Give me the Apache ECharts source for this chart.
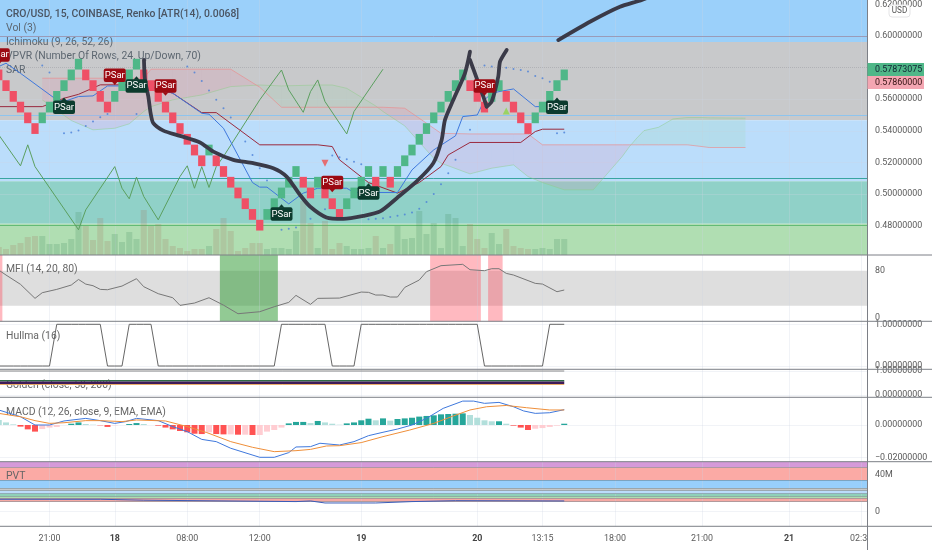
<!DOCTYPE html>
<html><head><meta charset="utf-8">
<style>html,body{margin:0;padding:0;background:#fff}#c{width:932px;height:550px}</style>
<script src="https://cdn.jsdelivr.net/npm/echarts@6/dist/echarts.min.js"></script>
</head><body><div id="c"></div>
<script>
// ---------- data ----------
const brickSize = 0.0068;
const brickMid = [.5754,.5686,.5618,.5550,.5482,.5414,.5482,.5550,.5618,.5686,.5754,.5822,.5754,.5686,.5618,.5550,.5618,.5686,.5754,.5822,.5754,.5686,.5618,.5550,.5482,.5414,.5346,.5278,.5210,.5278,.5210,.5142,.5074,.5006,.4938,.4870,.4802,.4870,.4938,.5006,.5074,.5142,.5074,.5006,.5074,.5006,.4938,.4870,.4938,.5006,.5074,.5142,.5074,.5142,.5074,.5142,.5210,.5278,.5346,.5414,.5482,.5550,.5618,.5686,.5754,.5686,.5618,.5550,.5618,.5686,.5618,.5550,.5482,.5414,.5482,.5550,.5618,.5686,.5754];
const brickDir = [-1,-1,-1,-1,-1,-1,1,1,1,1,1,1,-1,-1,-1,-1,1,1,1,1,-1,-1,-1,-1,-1,-1,-1,-1,-1,1,-1,-1,-1,-1,-1,-1,-1,1,1,1,1,1,-1,-1,1,-1,-1,-1,1,1,1,1,-1,1,-1,1,1,1,1,1,1,1,1,1,1,-1,-1,-1,1,1,-1,-1,-1,-1,1,1,1,1,1];
const volume = [8,6,10,12,18,19,19,11,11,12,16,43,29,15,37,14,21,13,23,16,45,29,31,16,9,7,4,6,6,9,26,37,24,4,7,12,12,6,7,7,6,24,54,32,7,34,6,12,9,6,6,7,19,7,11,29,16,17,44,21,32,7,41,37,9,31,16,7,22,11,26,9,7,6,6,7,6,16,16];
const volumeMA = [[0,3],[3,9],[5,18],[6,20],[8,16],[10,16],[11,27],[12,30],[14,28],[16,21],[18,12],[19,16],[20,27],[22,36],[23,27],[24,12],[26,7],[28,5],[30,16],[31,27],[33,17],[34,9],[36,8],[40,7],[41,17],[42,29],[43,32],[45,21],[48,14],[49,8],[51,7],[52,11],[54,16],[57,17],[59,32],[61,24],[62,30],[64,30],[66,21],[69,13],[70,20],[73,7],[76,7],[78,15]];
const baseLine = [[0,.5553],[6,.5553],[9,.5606],[11,.5631],[14,.5691],[20,.5691],[24,.5638],[28,.5515],[30,.5515],[36,.5311],[44,.5311],[46,.5300],[47,.5216],[51,.5072],[55,.5005],[58,.5072],[61,.5173],[62,.5247],[65,.5326],[72,.5326],[74,.5395],[75,.5410],[78,.5410]];
const conversionLine = [[0,.5807],[1,.5828],[3,.5764],[8,.5596],[9,.5585],[11,.5617],[13,.5621],[15,.5684],[21,.5684],[24,.5638],[28,.5511],[29,.5505],[31,.5416],[35,.5072],[36,.5043],[37,.5043],[40,.4937],[42,.5005],[44,.5036],[48,.5036],[49,.5009],[55,.5009],[57,.5152],[60,.5279],[63,.5368],[64,.5490],[66,.5500],[67,.5596],[68,.5638],[69,.5648],[71,.5665],[74,.5553],[76,.5553],[78,.5585]];
const laggingLine = [[0,.5374],[3,.5178],[4,.5311],[5,.5173],[11,.4773],[12,.4899],[16,.5173],[17,.5036],[18,.4969],[19,.5106],[20,.4984],[22,.4836],[25,.5110],[26,.5178],[27,.5036],[28,.5173],[29,.5041],[30,.5173],[31,.5237],[36,.5596],[39,.5785],[40,.5659],[42,.5517],[43,.5648],[44,.5722],[45,.5585],[48,.5380],[49,.5522],[53,.5790]];
const cloudN = [6,10,13,16,18,20,21,24,28,32,36,39,44,46,48,52,53,56,60,61,65,68,71,73,75,78,82,86,87,88,89,91,93,95,97,98,103];
const spanB = [.5733,.5733,.5733,.5733,.5733,.5733,.5790,.5790,.5790,.5790,.5676,.5549,.5549,.5549,.5549,.5549,.5549,.5543,.5416,.5384,.5380,.5380,.5380,.5380,.5311,.5311,.5311,.5311,.5311,.5311,.5311,.5311,.5311,.5311,.5300,.5294,.5294];
const spanA = [.5596,.5465,.5406,.5416,.5444,.5522,.5553,.5596,.5627,.5680,.5690,.5684,.5690,.5690,.5669,.5557,.5522,.5431,.5226,.5195,.5127,.5163,.5184,.5110,.5072,.5026,.5026,.5237,.5300,.5353,.5401,.5422,.5475,.5484,.5484,.5482,.5480];
const sarPoints = [[6,.5813],[7,.5769],[9,.5384],[10,.5389],[11,.5401],[12,.5431],[13,.5458],[14,.5486],[15,.5507],[19,.5507],[26,.5807],[27,.5769],[28,.5716],[29,.5655],[30,.5596],[31,.5543],[32,.5484],[34,.5332],[35,.5247],[36,.5163],[37,.5085],[39,.4773],[40,.4779],[41,.4787],[43,.4842],[45,.4903],[46,.5243],[47,.5233],[48,.5220],[49,.5203],[50,.5188],[51,.4840],[52,.4842],[53,.4846],[54,.4853],[55,.4861],[56,.4870],[57,.4882],[58,.4906],[59,.4948],[60,.5000],[61,.5062],[62,.5131],[63,.5216],[65,.5406],[67,.5813],[68,.5807],[69,.5796],[70,.5800],[71,.5792],[72,.5785],[73,.5775],[74,.5747],[75,.5733],[76,.5711],[77,.5384],[78,.5389]];
const drawingA = [[20.03,.5849],[20.17,.5722],[20.63,.5617],[20.95,.5511],[21.32,.5448],[22.7,.5401],[25,.5368],[27.76,.5326],[29.6,.5268],[32.35,.5216],[35.1,.5195],[37.87,.5163],[39.7,.5110],[41.55,.4994],[42.93,.4920],[45.2,.4851],[47.53,.4842],[50.29,.4861],[52.6,.4889],[54.9,.4973],[57.64,.5079],[59.94,.5195],[61.09,.5342],[61.55,.5469],[62.7,.5596],[64.3,.5764],[65,.5901]];
const drawingC = [[65,.5849],[65.92,.5733],[66.84,.5617],[67.3,.5553]];
const drawingD = [[67.3,.5553],[67.99,.5585],[68.9,.5743],[69.14,.5838],[70.06,.5912]];
const drawingB = [[77.18,.5975],[81.55,.6091],[85.69,.6186],[88.7,.6229],[92,.6290]];
const psarSell = [[0,.5880],[16,.5752],[23,.5684],[46,.5072],[67,.5684]];
const psarBuy = [[9,.5549],[19,.5684],[39,.4872],[51,.5005],[77,.5549]];
const triDown = [[45,.5195]];
const triUp = [[70,.5526]];
const mfi = [[0,81],[1,72.6],[3,56.6],[5,32.6],[6,42.3],[8,48],[10,55.4],[11,65],[12,57],[13,54.3],[14,48],[15,47.4],[17,53.7],[19,66.3],[20,52.6],[22,40.6],[24,33.7],[25,20.6],[27,24.6],[29,33.7],[31,21],[33,6.3],[36,9.7],[38,18.3],[40,25.7],[41,37.7],[43,22.3],[44,32.6],[47,33.1],[50,43.4],[51,42.9],[52,38.3],[53,38.3],[54,34.9],[55,34.9],[56,51.4],[58,64],[59,78.3],[61,88.6],[64,90.9],[65,81.7],[67,80],[68,83.4],[69,83.4],[70,75.4],[71,72.6],[74,58.3],[75,57.1],[77,44],[78,46.9]];
const mfiRed = [[0,.5],[59.5,66.5],[67.5,69.5]];
const mfiGreen = [[30.5,38.5]];
const hull = [0,0,0,0,0,0,0,0,1,1,1,1,1,1,1,0,0,0,1,1,1,1,0,0,0,0,0,0,0,0,0,0,0,0,0,0,0,0,0,1,1,1,1,1,1,1,0,0,0,0,1,1,1,1,1,1,1,1,1,1,1,1,1,1,1,1,1,0,0,0,0,0,0,0,0,0,1,1,1];
const goldenFlat = 1, goldenFast = .596, goldenSlow = .51, goldenClose = .44;
const macdLine = [[0,.0093],[3,.0051],[5,0],[7,0],[9,.0025],[12,.0041],[14,.0027],[16,.0010],[17.5,.0021],[19,.0041],[22,.0027],[24,-.0010],[26,-.0041],[28,-.0089],[30,-.0103],[32,-.0144],[36,-.0200],[38,-.0200],[40,-.0171],[41,-.0136],[43,-.0134],[44.3,-.0113],[47,-.0124],[49,-.0103],[51,-.0066],[53,-.0045],[55,-.0025],[57,0],[59,.0041],[61.3,.0103],[64,.0148],[65.5,.0148],[67,.0134],[69,.0140],[71,.0113],[72.4,.0087],[74,.0072],[76,.0076],[78,.0095]];
const macdSignal = [[0,.0072],[3,.0051],[5,.0027],[7,.0010],[9,.0014],[12,.0027],[14,.0027],[17,.0021],[19,.0031],[23,.0025],[26,-.0010],[28.7,-.0047],[32,-.0103],[35,-.0138],[38,-.0165],[41,-.0159],[43,-.0151],[45.2,-.0130],[47,-.0128],[50,-.0109],[53,-.0072],[56.7,-.0031],[60,.0010],[62.7,.0056],[65,.0093],[67.3,.0113],[70,.0121],[72.8,.0107],[76,.0093],[78,.0093]];
const macdHist = [.0031,.0016,.0004,-.0010,-.0027,-.0041,-.0025,-.0016,-.0012,0,.0008,.0016,.0006,.0002,-.0002,-.0012,-.0002,0,.0006,.0012,.0006,0,-.0004,-.0016,-.0027,-.0037,-.0045,-.0054,-.0056,-.0045,-.0056,-.0058,-.0058,-.0060,-.0060,-.0062,-.0062,-.0041,-.0031,-.0016,.0010,.0019,.0019,.0012,.0025,.0016,.0008,.0002,.0010,.0016,.0029,.0039,.0029,.0041,.0027,.0037,.0041,.0045,.0052,.0056,.0060,.0066,.0068,.0070,.0072,.0062,.0045,.0029,.0023,.0023,.0008,-.0004,-.0016,-.0031,-.0023,-.0019,-.0012,-.0004,.0008];
const pvtLine = [[0,13],[14,13],[20,12],[41,10.5],[43,11.2],[45,9],[52,9],[57,10.5],[63,11.5],[78,11.2]];
const priceBandEdges = [.62285,.5963,.5466,.5080,.4811,.4613];
const priceBandColors = ['#9bd0fa','#c8c9cb','#bbddfb','#90d1c8','#b0deb2'];
const priceEdgeColors = ['#9a9bb8','#8ec4ee','#38a5a0','#63bb76'];
const pvtBandEdges = [53.6,47.2,33.8,24.8,22.3,19.1,16,14,10.4];
const pvtBandColors = ['#d59ad9','#fbaaa5','#98cffb','#c8c8c8','#bbdcfb','#8fd0b8','#afddb0','#f6a9a3'];
const xTicks = [7,16,26,36,50,66,75,85,97,109,119];
const xLabelAt = [7,16,26,36,50,66,75,85,97,109,118.6];
const xLabels = ['21:00','18','08:00','12:00','19','20','13:15','18:00','21:00','21','02:3'];
const boldLabels = ['18','19','20','21'];
const priceTicks = [.48,.50,.52,.54,.56,.60,.62];
const priceGridlines = [.48,.50,.52,.54,.56];
const lastPrice = .5786;

// ---------- layout ----------
const XMIN=.172, XMAX=119.83, W=867.5;
const panes=[[0,255],[255,321.3],[321.3,369.3],[369.3,397.3],[397.3,461.7],[461.7,526.3]];
const FONT='Roboto, sans-serif', AXC='#5a5a5a', FS=8.9;
const GRIDC='rgba(205,212,225,.28)';

const grids=panes.map(p=>({left:0,top:p[0],width:W,height:p[1]-p[0],containLabel:false}));
const xAxes=panes.map((p,i)=>({gridIndex:i,type:'value',min:XMIN,max:XMAX,show:i===5,
  axisLine:{show:false},axisTick:{show:false},splitLine:{show:false},
  axisLabel:{show:i===5,customValues:xLabelAt,margin:8,fontFamily:FONT,fontSize:FS,color:AXC,hideOverlap:false,showMinLabel:true,showMaxLabel:true,
    formatter:v=>{const l=xLabels[xLabelAt.indexOf(v)]||'';return boldLabels.includes(l)?'{b|'+l+'}':l},
    rich:{b:{fontWeight:'bold',fontFamily:FONT,fontSize:FS,color:'#444'}}}}));
function yAx(g,min,max,vals,fmt){return {gridIndex:g,type:'value',position:'right',min,max,scale:true,
  axisLine:{show:false},axisTick:{show:false},splitLine:{show:false},
  axisLabel:{show:!!vals,customValues:vals||undefined,margin:7.5,fontFamily:FONT,fontSize:FS,color:AXC,hideOverlap:false,showMinLabel:true,showMaxLabel:true,align:'left',formatter:fmt}}}
const f8=v=>{const s=Math.abs(v).toFixed(8);return (v<0?'\u2212':'')+s};
const yAxes=[
 yAx(0,.4613,.62285,priceTicks,f8),
 {gridIndex:0,type:'value',min:0,max:255,show:false,splitLine:{show:false}},
 yAx(1,-6.7,106.9,[0,80],v=>''+v),
 yAx(2,-.079,1.072,[0,1],f8),
 yAx(3,-.096,1.071,[0,1],f8),
 yAx(4,-.02272,.01715,[-.02,0],f8),
 yAx(5,-16.2,53.6,[0,40],v=>v?v+'M':'0')
];
const axIdx=[0,2,3,4,5,6];

function helper(pane,areasY,edges,hlines,areasX){
  const md=xTicks.map(v=>({xAxis:v,lineStyle:{color:GRIDC,width:1,type:'solid'}}));
  (hlines||[]).forEach(v=>md.push({yAxis:v,lineStyle:{color:GRIDC,width:1,type:'solid'}}));
  (edges||[]).forEach(e=>md.push({yAxis:e[0],lineStyle:{color:e[1],width:1,type:'solid'}}));
  return [{type:'line',xAxisIndex:pane,yAxisIndex:axIdx[pane],data:[],z:1,silent:true,
    markArea:{silent:true,z:1,data:areasY.map(a=>[{yAxis:a[0],itemStyle:{color:a[2],opacity:1}},{yAxis:a[1]}])},
    markLine:{silent:true,symbol:'none',z:3,animation:false,label:{show:false},data:md}}]
    .concat(areasX?[{type:'line',xAxisIndex:pane,yAxisIndex:axIdx[pane],data:[],z:2,silent:true,
      markArea:{silent:true,z:2,data:areasX.map(a=>[{xAxis:a[0],itemStyle:{color:a[2]}},{xAxis:a[1]}])}}]:[]);
}
function line(pane,data,color,width,z,extra){
  return Object.assign({type:'line',xAxisIndex:pane,yAxisIndex:axIdx[pane],data,symbol:'none',z:z||6,silent:true,clip:true,
    lineStyle:{color,width:width||1},animation:false},extra||{});
}
const pricePairs=priceBandColors.map((c,i)=>[priceBandEdges[i],priceBandEdges[i+1],c]);
const pvtPairs=pvtBandColors.map((c,i)=>[pvtBandEdges[i],pvtBandEdges[i+1],c]);
const bars=Array.from(volume.keys());

const series=[];
series.push(...helper(0,pricePairs,priceBandEdges.slice(1,5).map((v,i)=>[v,priceEdgeColors[i]]),priceGridlines));
series.push(...helper(1,[[80,20,'#dedede']],null,null,mfiRed.map(a=>[a[0],a[1],'rgba(255,70,90,.38)']).concat(mfiGreen.map(a=>[a[0],a[1],'rgba(60,160,65,.56)']))));
series.push(...helper(2,[],null,[0,1]));
series.push(...helper(3,[],null,[0,1]));
series.push(...helper(4,[],null,[0,-.02]));
series.push(...helper(5,pvtPairs,pvtBandEdges.slice(1,9).map(v=>[v,'rgba(90,110,120,.45)']),[0]));

// last price dotted line
series.push({type:'line',xAxisIndex:0,yAxisIndex:0,data:[],z:3,silent:true,markLine:{silent:true,symbol:'none',label:{show:false},data:[{yAxis:lastPrice,lineStyle:{color:'rgba(120,120,130,.28)',type:'dotted',width:1}}]}});

// volume
series.push({type:'bar',xAxisIndex:0,yAxisIndex:1,barWidth:6,z:4,silent:true,animation:false,
  data:bars.map(i=>({value:[i,volume[i]],itemStyle:{color:brickDir[i]>0?'rgba(70,140,95,.22)':'rgba(165,120,95,.22)'}}))});
series.push(line(0,volumeMA,'#f0a964',1,5));

// cloud
series.push({type:'custom',xAxisIndex:0,yAxisIndex:0,z:4,silent:true,clip:true,animation:false,
  data:cloudN.slice(0,-1).map((n,i)=>[n,spanA[i],spanB[i],cloudN[i+1],spanA[i+1],spanB[i+1]]),
  encode:{x:[0,3],y:[1,2]},
  renderItem:(p,api)=>{
    const n=api.value(0),a=api.value(1),b=api.value(2),m=api.value(3),a2=api.value(4),b2=api.value(5);
    const pts=[[n,a],[m,a2],[m,b2],[n,b]].map(q=>api.coord(q));
    const green=(a+a2)>(b+b2);
    return {type:'polygon',shape:{points:pts},style:{fill:green?'rgba(150,215,170,.18)':'rgba(240,130,170,.17)',stroke:null}};
  }});
series.push(line(0,cloudN.map((n,i)=>[n,spanA[i]]),'rgba(140,205,130,.45)',1,5));
series.push(line(0,cloudN.map((n,i)=>[n,spanB[i]]),'rgba(235,140,140,.65)',1,5));

series.push(line(0,laggingLine,'#5b9f5f',1,6));
series.push(line(0,baseLine,'#9a2a3e',1,7));
series.push(line(0,conversionLine,'#3f78dc',1,7));
series.push({type:'scatter',xAxisIndex:0,yAxisIndex:0,data:sarPoints,symbol:'circle',symbolSize:2,z:7,silent:true,itemStyle:{color:'#4a80d8'},animation:false});

// bricks
series.push({type:'custom',xAxisIndex:0,yAxisIndex:0,z:8,silent:true,clip:true,animation:false,
  data:brickMid.map((m,i)=>[i,m-brickDir[i]*brickSize/2,m+brickDir[i]*brickSize/2]),
  encode:{x:0,y:[1,2]},
  renderItem:(p,api)=>{
    const n=api.value(0),o=api.value(1),c=api.value(2);
    const a=api.coord([n,Math.max(o,c)]),b=api.coord([n,Math.min(o,c)]);
    const w=api.size([1,0])[0];
    return {type:'rect',shape:{x:a[0]-w/2,y:a[1],width:w,height:b[1]-a[1]},style:{fill:c>o?'#4fb788':'#ef5066'}};
  }});

// drawing
const inkStyle={color:'#3a3a48',width:3.8,cap:'round',join:'round'};
series.push(line(0,drawingA,'#3a3a48',3.8,9,{smooth:.25,lineStyle:inkStyle}));
series.push(line(0,drawingC,'#3a3a48',3.8,9,{lineStyle:inkStyle}));
series.push(line(0,drawingD,'#3a3a48',3.8,9,{smooth:.2,lineStyle:inkStyle}));
series.push(line(0,drawingB,'#3a3a48',3.8,9,{smooth:.2,lineStyle:inkStyle}));

// PSar labels
function psar(data,fill,up){return {type:'custom',xAxisIndex:0,yAxisIndex:0,z:10,silent:true,clip:true,animation:false,data,encode:{x:0,y:1},
  renderItem:(p,api)=>{
    const c=api.coord([api.value(0),api.value(1)]);
    const w=22,h=13.5,x=c[0]-w/2,y=c[1]-h/2;
    const tip=up?[[c[0]-3,y+.5],[c[0],y-3],[c[0]+3,y+.5]]:[[c[0]-3,y+h-.5],[c[0],y+h+3],[c[0]+3,y+h-.5]];
    return {type:'group',children:[
      {type:'rect',shape:{x,y,width:w,height:h,r:2},style:{fill}},
      {type:'polygon',shape:{points:tip},style:{fill}},
      {type:'text',style:{text:'PSar',x:c[0],y:c[1],align:'center',verticalAlign:'middle',fill:'#fff',fontFamily:FONT,fontSize:9.6}}
    ]};
  }}}
series.push(psar(psarSell,'#9c0a12',false));
series.push(psar(psarBuy,'#0c3b2e',true));
series.push({type:'scatter',xAxisIndex:0,yAxisIndex:0,data:triDown,symbol:'triangle',symbolRotate:180,symbolSize:[7,7],z:9,silent:true,itemStyle:{color:'#ef5350'},animation:false});
series.push({type:'scatter',xAxisIndex:0,yAxisIndex:0,data:triUp,symbol:'triangle',symbolSize:[7,7],z:9,silent:true,itemStyle:{color:'#8fd64a'},animation:false});

// MFI, Hull, Golden
series.push(line(1,mfi,'#777',1,6));
series.push(line(2,hull.map((v,i)=>[i,v]),'#666',1,6));
series.push(line(3,[[XMIN,goldenFlat],[78,goldenFlat]],'#888',1,5));
series.push(line(3,[[XMIN,goldenClose],[78,goldenClose]],'#e8a860',1,5));
series.push(line(3,[[XMIN,goldenFast],[78,goldenFast]],'#2f6a44',1.4,6));
series.push(line(3,[[XMIN,goldenSlow],[78,goldenSlow]],'#3f1a58',2.4,7));

// MACD
const histColor=i=>{const v=macdHist[i],pr=i?macdHist[i-1]:(v>0?Infinity:-Infinity);
  return v>=0?(v>=pr?'#26a69a':'#b2dfdb'):(v<pr?'#ff5252':'#ffcdd2')};
series.push({type:'bar',xAxisIndex:4,yAxisIndex:5,barWidth:6,z:4,silent:true,animation:false,
  data:macdHist.map((v,i)=>({value:[i,v],itemStyle:{color:histColor(i)}}))});
series.push(line(4,macdLine,'#3f78dc',1,6));
series.push(line(4,macdSignal,'#ef8f3a',1,6));

// PVT
series.push(line(5,pvtLine,'#3a5bb8',1,6));

const legend=[['CRO/USD, 15, COINBASE, Renko [ATR(14), 0.0068]',14,500,'#4a5462'],['Vol (3)',28,400,'#5c6670'],['Ichimoku (9, 26, 52, 26)',42,400,'#5c6670'],['VPVR (Number Of Rows, 24, Up/Down, 70)',56,400,'#5c6670'],['SAR',70,400,'#5c6670'],
 ['MFI (14, 20, 80)',269,400,'#666'],['Hullma (16)',336,400,'#666'],['Golden (close, 50, 200)',385,400,'#666'],['MACD (12, 26, close, 9, EMA, EMA)',412,400,'#666'],['PVT',476,400,'#666']];
const titles=legend.map(l=>({text:l[0],left:6,top:l[1]-6.5,padding:0,z:1,textStyle:{fontFamily:FONT,fontSize:10.4,fontWeight:l[2],color:l[3],lineHeight:13}}));

const sep=(panes.slice(0,6).map(p=>p[1])).map(y=>({type:'line',z:20,silent:true,shape:{x1:0,y1:y,x2:932,y2:y},style:{stroke:'#7c7f86',lineWidth:1}}));
const graphic=sep.concat([
 {type:'line',z:20,silent:true,shape:{x1:867.5,y1:0,x2:867.5,y2:550},style:{stroke:'#7c7f86',lineWidth:1}},
 {type:'rect',z:21,silent:true,shape:{x:867.5,y:63,width:56.5,height:13},style:{fill:'#4fb788'}},
 {type:'text',z:22,silent:true,style:{text:'0.57873075',x:875,y:69.7,verticalAlign:'middle',fontFamily:FONT,fontSize:FS,fill:'#123'}},
 {type:'rect',z:21,silent:true,shape:{x:867.5,y:76,width:56.5,height:13},style:{fill:'#f4a6b2'}},
 {type:'text',z:22,silent:true,style:{text:'0.57860000',x:875,y:82.7,verticalAlign:'middle',fontFamily:FONT,fontSize:FS,fill:'#311'}},
 {type:'rect',z:21,silent:true,shape:{x:889,y:5,width:21,height:12,r:3},style:{fill:'#fff',stroke:'#e4e4e6',lineWidth:1}},
 {type:'text',z:22,silent:true,style:{text:'USD',x:899.5,y:11.3,align:'center',verticalAlign:'middle',fontFamily:FONT,fontSize:8.2,fill:'#555'}}
]);

const chart=echarts.init(document.getElementById('c'),null,{renderer:'canvas'});
chart.setOption({animation:false,backgroundColor:'#fff',title:titles,grid:grids,xAxis:xAxes,yAxis:yAxes,series,graphic,tooltip:{show:false}});
</script></body></html>
